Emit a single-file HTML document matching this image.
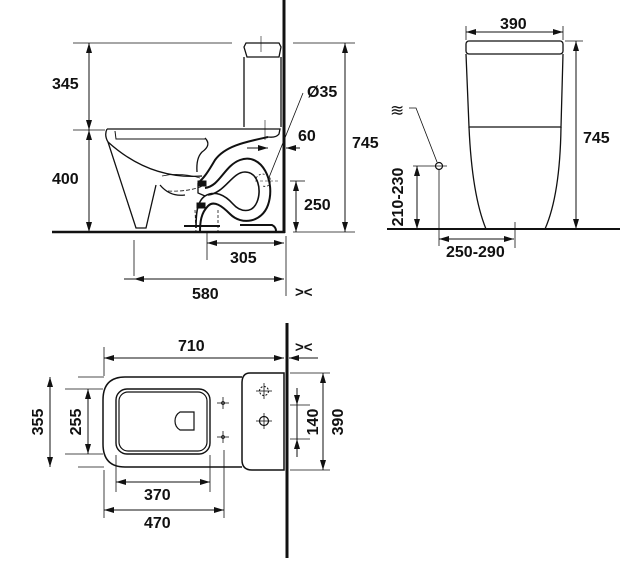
<!DOCTYPE html>
<html><head><meta charset="utf-8"><style>
html,body{margin:0;padding:0;background:#fff;}
svg{display:block;}
text{font-family:"Liberation Sans",Arial,sans-serif;font-weight:bold;font-size:16px;fill:#111;}
</style></head><body>
<svg width="634" height="572" viewBox="0 0 634 572" xmlns="http://www.w3.org/2000/svg">
<defs>
<marker id="a" viewBox="0 0 10 6" refX="10" refY="3" markerWidth="10" markerHeight="6" orient="auto-start-reverse" markerUnits="userSpaceOnUse"><path d="M0,0 L10,3 L0,6z" fill="#111"/></marker>
</defs>
<g stroke="#111" fill="none" stroke-width="1">
<!-- SIDE VIEW -->
<line x1="284" y1="0" x2="284" y2="233" stroke-width="3"/>
<line x1="52" y1="232" x2="285" y2="232" stroke-width="2.5"/>
<line x1="73" y1="43" x2="232" y2="43" stroke-width="0.8"/>
<line x1="73" y1="130" x2="105" y2="130" stroke-width="0.8"/>
<line x1="89" y1="43" x2="89" y2="130" marker-start="url(#a)" marker-end="url(#a)"/>
<line x1="89" y1="130" x2="89" y2="232" marker-start="url(#a)" marker-end="url(#a)"/>
<line x1="293" y1="43" x2="355" y2="43" stroke-width="0.8"/>
<line x1="293" y1="232" x2="355" y2="232" stroke-width="0.8"/>
<line x1="345" y1="43" x2="345" y2="232" marker-start="url(#a)" marker-end="url(#a)"/>
<line x1="290" y1="181" x2="305" y2="181" stroke-width="0.8"/>
<line x1="296" y1="181" x2="296" y2="232" marker-start="url(#a)" marker-end="url(#a)"/>
<line x1="300" y1="148" x2="286" y2="148" marker-end="url(#a)"/>
<line x1="247" y1="148" x2="268" y2="148" marker-end="url(#a)"/>
<line x1="303" y1="93" x2="268" y2="180" stroke-width="0.8"/>
<line x1="207" y1="232" x2="207" y2="260" stroke-width="0.8"/>
<line x1="207" y1="243" x2="284" y2="243" marker-start="url(#a)" marker-end="url(#a)"/>
<line x1="134" y1="240" x2="134" y2="276" stroke-width="0.8"/>
<line x1="286" y1="236" x2="286" y2="296" stroke-width="0.8"/>
<line x1="124" y1="279" x2="134" y2="279"/>
<line x1="134" y1="279" x2="284" y2="279" marker-start="url(#a)" marker-end="url(#a)"/>
<!-- tank -->
<path d="M246,43 H279 L281,47 L279,57 H247 L244,47 Z" stroke-width="1.3"/>
<line x1="261" y1="36" x2="261" y2="52" stroke-width="0.6"/>
<line x1="244" y1="57" x2="244" y2="127" stroke-width="1.3"/>
<line x1="281" y1="57" x2="281" y2="127" stroke-width="1.3"/>
<!-- seat & bowl -->
<path d="M107,129 H280 L279,134 Q276,138 268,137" stroke-width="1.3"/>
<path d="M107,129 Q104,135 108,142 L136,228 H146 L156,185" stroke-width="1.3"/>
<path d="M115,131 L116,139 H205" stroke-width="1"/>
<path d="M108,142 Q150,180 202,176" stroke-width="1.3"/>
<path d="M205,138 Q212,145 202,152 Q196,158 197,172" stroke-width="1.3"/>
<path d="M160,185 Q170,197 185,195" stroke-width="1.3"/>
<path d="M162,176 Q180,172 200,178" stroke-width="0.7"/>
<path d="M168,191 Q190,192 205,185" stroke-width="0.8" stroke-dasharray="4,2"/>
<!-- trapway -->
<path d="M268,137 C245,142 225,146 215,160 C208,172 204,178 198,183" stroke-width="2"/>
<path d="M205,188 C220,186 224,166 240,160 C262,152 276,182 268,205 C262,222 242,226 230,214 C222,206 214,200 208,206 C201,213 200,222 200,232" stroke-width="2"/>
<path d="M208,195 C225,193 232,172 245,172 C258,172 262,190 257,202 C252,214 240,212 233,204 C225,195 215,190 205,196 C196,202 196,218 196,228" stroke-width="1.6"/>
<path d="M198,183 L198,193 L205,196" stroke-width="1.3"/>
<rect x="198" y="181" width="8" height="5" fill="#111"/>
<rect x="197" y="203" width="8" height="5" fill="#111"/>
<path d="M195,210 L196,232 M218,210 L218,232" stroke-width="0.8" stroke-dasharray="3,2"/>
<path d="M184,226 H220 M240,225 H272 Q276,227 276,231" stroke-width="2"/>
<path d="M256,178 Q262,170 270,178 Q272,188 262,186" stroke-width="0.8" stroke-dasharray="2,2"/>
<line x1="255" y1="181" x2="278" y2="181" stroke-width="0.6" stroke-dasharray="3,2"/>
<line x1="265" y1="120" x2="265" y2="140" stroke-width="0.6"/>
<!-- FRONT VIEW -->
<line x1="387" y1="229" x2="620" y2="229" stroke-width="2"/>
<line x1="466" y1="26" x2="466" y2="40" stroke-width="0.8"/>
<line x1="563" y1="26" x2="563" y2="40" stroke-width="0.8"/>
<line x1="466" y1="32" x2="563" y2="32" marker-start="url(#a)" marker-end="url(#a)"/>
<rect x="466" y="41" width="97" height="13" rx="3" stroke-width="1.3"/>
<path d="M466,54 L469,127 H561 L563,54" stroke-width="1.3"/>
<path d="M469,127 Q472,195 486,229 M561,127 Q560,195 545,229" stroke-width="1.3"/>
<line x1="515" y1="222" x2="515" y2="248" stroke-width="0.8"/>
<line x1="565" y1="41" x2="583" y2="41" stroke-width="0.8"/>
<line x1="576" y1="41" x2="576" y2="229" marker-start="url(#a)" marker-end="url(#a)"/>
<circle cx="439" cy="166" r="3.5" stroke-width="1.2"/>
<line x1="413" y1="166" x2="447" y2="166" stroke-width="0.8"/>
<line x1="439" y1="170" x2="439" y2="246" stroke-width="0.8"/>
<path d="M409,108 H416 L437,162" stroke-width="0.8"/>
<line x1="417" y1="166" x2="417" y2="229" marker-start="url(#a)" marker-end="url(#a)"/>
<line x1="439" y1="239" x2="514" y2="239" marker-start="url(#a)" marker-end="url(#a)"/>
<!-- TOP VIEW -->
<line x1="287" y1="323" x2="287" y2="558" stroke-width="3"/>
<line x1="104" y1="347" x2="104" y2="376" stroke-width="0.8"/>
<line x1="104" y1="358" x2="284" y2="358" marker-start="url(#a)" marker-end="url(#a)"/>
<line x1="318" y1="358" x2="289" y2="358" marker-end="url(#a)"/>
<path d="M242,377 H125 Q103,377 103,400 V444 Q103,467 125,467 H242" stroke-width="1.5"/>
<path d="M250,373 H284 V470 H252 Q242,470 242,460 V383 Q242,373 250,373 Z" stroke-width="1.5"/>
<rect x="116" y="389" width="94" height="65" rx="11" stroke-width="1.4"/>
<rect x="119" y="392" width="88" height="59" rx="9" stroke-width="1.2"/>
<path d="M194,412 H180 Q175,415 175,421 Q175,427 180,430 H194 Z" stroke-width="1.2"/>
<g stroke-width="0.8">
<line x1="217" y1="403" x2="229" y2="403"/><line x1="223" y1="397" x2="223" y2="409"/>
<line x1="217" y1="437" x2="229" y2="437"/><line x1="223" y1="431" x2="223" y2="443"/>
<line x1="256" y1="391" x2="272" y2="391"/><line x1="264" y1="383" x2="264" y2="399"/>
<line x1="256" y1="421" x2="272" y2="421"/><line x1="264" y1="413" x2="264" y2="429"/>
</g>
<circle cx="223" cy="403" r="1.5" stroke-width="0.8"/>
<circle cx="223" cy="437" r="1.5" stroke-width="0.8"/>
<circle cx="264" cy="391" r="4.5" stroke-width="1" stroke-dasharray="2,1.5"/>
<circle cx="264" cy="421" r="4.5" stroke-width="1.2"/>
<line x1="78" y1="377" x2="104" y2="377" stroke-width="0.8"/>
<line x1="78" y1="467" x2="104" y2="467" stroke-width="0.8"/>
<line x1="65" y1="389" x2="103" y2="389" stroke-width="0.8"/>
<line x1="65" y1="454" x2="103" y2="454" stroke-width="0.8"/>
<line x1="50" y1="377" x2="50" y2="467" marker-start="url(#a)" marker-end="url(#a)"/>
<line x1="88" y1="389" x2="88" y2="454" marker-start="url(#a)" marker-end="url(#a)"/>
<line x1="290" y1="373" x2="330" y2="373" stroke-width="0.8"/>
<line x1="290" y1="470" x2="330" y2="470" stroke-width="0.8"/>
<line x1="290" y1="405" x2="310" y2="405" stroke-width="0.8"/>
<line x1="290" y1="439" x2="310" y2="439" stroke-width="0.8"/>
<line x1="297" y1="388" x2="297" y2="405" marker-end="url(#a)"/>
<line x1="297" y1="457" x2="297" y2="439" marker-end="url(#a)"/>
<line x1="297" y1="405" x2="297" y2="439"/>
<line x1="323" y1="373" x2="323" y2="470" marker-start="url(#a)" marker-end="url(#a)"/>
<line x1="116" y1="455" x2="116" y2="492" stroke-width="0.8"/>
<line x1="210" y1="455" x2="210" y2="492" stroke-width="0.8"/>
<line x1="116" y1="482" x2="210" y2="482" marker-start="url(#a)" marker-end="url(#a)"/>
<line x1="104" y1="470" x2="104" y2="518" stroke-width="0.8"/>
<line x1="224" y1="450" x2="224" y2="518" stroke-width="0.8"/>
<line x1="104" y1="510" x2="224" y2="510" marker-start="url(#a)" marker-end="url(#a)"/>
</g>
<text x="52" y="89">345</text>
<text x="52" y="184">400</text>
<text x="307" y="97">Ø35</text>
<text x="298" y="141">60</text>
<text x="352" y="148">745</text>
<text x="304" y="210">250</text>
<text x="230" y="263">305</text>
<text x="192" y="299">580</text>
<text x="295" y="297" style="font-size:15px">&gt;&lt;</text>
<text x="500" y="29">390</text>
<text x="583" y="143">745</text>
<text x="390" y="116" style="font-size:17px;font-weight:normal">≋</text>
<text x="446" y="257">250-290</text>
<text transform="translate(403,197) rotate(-90)" text-anchor="middle">210-230</text>
<text x="178" y="351">710</text>
<text x="295" y="352" style="font-size:15px">&gt;&lt;</text>
<text x="144" y="500">370</text>
<text x="144" y="528">470</text>
<text transform="translate(43,422) rotate(-90)" text-anchor="middle">355</text>
<text transform="translate(81,422) rotate(-90)" text-anchor="middle">255</text>
<text transform="translate(318,422) rotate(-90)" text-anchor="middle">140</text>
<text transform="translate(343,422) rotate(-90)" text-anchor="middle">390</text>
</svg>
</body></html>
